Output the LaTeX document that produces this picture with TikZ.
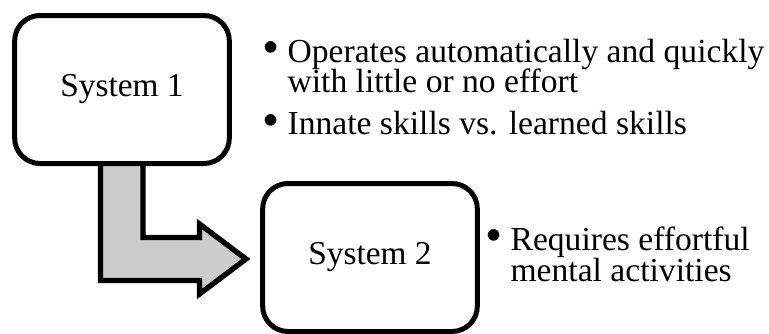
\documentclass[tikz,border=0pt]{standalone}
\usepackage{fontspec}
\setmainfont{Liberation Serif}
\newcommand{\bul}{\makebox[19pt][l]{\raisebox{-1.2pt}{\scalebox{1.45}{\textbullet}}}}
\newcommand{\nobul}{\hspace*{19pt}}
\begin{document}
\begin{tikzpicture}[x=0.75pt,y=-0.75pt,
  sysbox/.style={draw,line width=3.75pt,rounded corners=19pt,fill=white,
    minimum width=161pt,minimum height=111pt,inner sep=0pt,
    font=\fontsize{25}{30}\selectfont},
  point/.style={anchor=base west,inner sep=0pt,
    font=\fontsize{25.2}{30}\selectfont},
  blockarrow/.style={draw,fill=black!20,line width=4pt}]
\useasboundingbox (0,0) rectangle (769,333);
%
\filldraw [blockarrow] (100.5,150) -- (100.5,280.5) -- (199.5,280.5)
  -- (199.5,294) -- (246,259) -- (199.5,224) -- (199.5,237.5)
  -- (143,237.5) -- (143,150) -- cycle;
%
\node (1) [sysbox] at (122,89.5) {System 1};
\node (2) [sysbox] at (370,257.5) {System 2};
%
\node (p1) [point] at (262,62) {\bul Operates automatically and quickly};
\node (p1b) [point] at (262,92.5) {\nobul with little or no effort};
\node (p2) [point] at (262,134.5) {\bul Innate skills vs. learned skills};
%
\node (p3) [point] at (485,250) {\bul Requires effortful};
\node (p3b) [point] at (485,281) {\nobul mental activities};
\end{tikzpicture}
\end{document}
